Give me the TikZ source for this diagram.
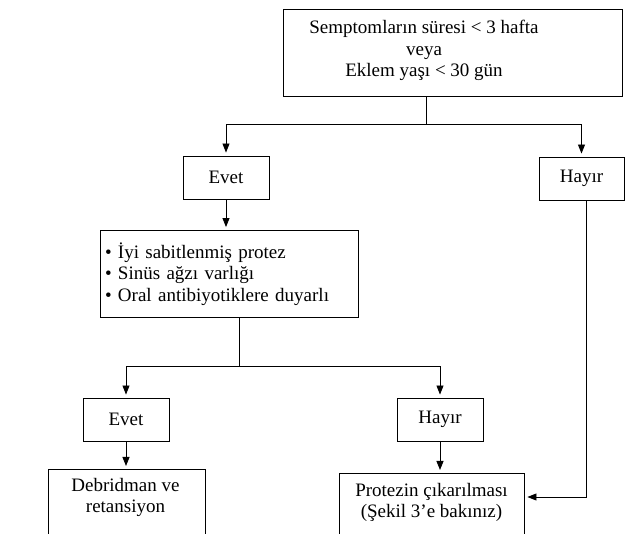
\documentclass[tikz,border=0pt]{standalone}
\usepackage{fontspec}
\setmainfont{Liberation Serif}
\usetikzlibrary{arrows.meta,calc}
\begin{document}
\begin{tikzpicture}[x=1pt,y=-1pt,line width=0.9pt,
  box/.style={draw, inner sep=0pt},
  txt/.style={font=\fontsize{19}{21.5}\selectfont, align=center, inner sep=0pt},
  arr/.style={-{Triangle[width=7pt,length=9pt]}, shorten >=3pt}]
\useasboundingbox (0,0) rectangle (630,534);
\clip (0,0) rectangle (630,534);

% question box, its text set a little left of the middle
\node[box, minimum width=339, minimum height=87] (top) at (452.5,52.5) {};
\node[txt] (toptext) at (424,50.5)
  {Semptomların süresi < 3 hafta\\veya\\Eklem yaşı < 30 gün};

% decision boxes
\node[box, txt, minimum width=86, minimum height=43] (evet1) at (226,177.5) {Evet};
\node[box, txt, minimum width=85, minimum height=43] (hayir1) at (581.5,178.5) {Hayır};
\node[box, txt, align=left, text width=248, minimum width=258, minimum height=87] (crit) at (229,274)
  {• İyi sabitlenmiş protez\\• Sinüs ağzı varlığı\\• Oral antibiyotiklere duyarlı};
\node[box, txt, minimum width=86, minimum height=43] (evet2) at (126,419.5) {Evet};
\node[box, txt, minimum width=86, minimum height=43] (hayir2) at (440,419.5) {Hayır};

% outcome boxes (running past the lower edge)
\node[box, minimum width=157, minimum height=100, anchor=north] (debr) at (126.5,469) {};
\node[txt] (debrtext) at (125.5,497.5) {Debridman ve\\retansiyon};
\node[box, minimum width=185, minimum height=100, anchor=north] (prot) at (431.5,473) {};
\node[txt] (prottext) at (431.5,502.5) {Protezin çıkarılması\\(Şekil 3’e bakınız)};

% connectors
\coordinate (j1) at (426,124);
\draw (top.south -| j1) -- (j1);
\draw[arr] (j1) -| (evet1.north);
\draw[arr] (j1) -| (hayir1.north);
\draw[arr] (evet1.south) -- (evet1.south |- crit.north);
\coordinate (j2) at (239,366);
\draw (crit.south -| j2) -- (j2);
\draw[arr] (j2) -| (evet2.north);
\draw[arr] (j2) -| (hayir2.north);
\draw[arr] (evet2.south) -- (evet2.south |- debr.north);
\draw[arr] (hayir2.south) -- (hayir2.south |- prot.north);
\coordinate (rt) at (586,497);
\draw[arr] (hayir1.south -| rt) -- (rt) -- (rt -| prot.east);
\end{tikzpicture}
\end{document}
